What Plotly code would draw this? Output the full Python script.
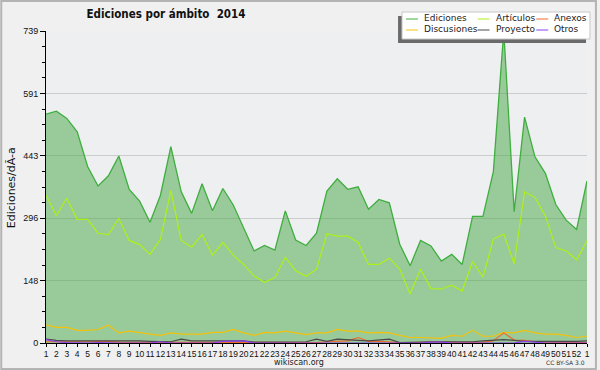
import plotly.graph_objects as go

# ---- data -------------------------------------------------------------
week_labels = ["1", "2", "3", "4", "5", "6", "7", "8", "9", "10",
               "11", "12", "13", "14", "15", "16", "17", "18", "19", "20",
               "21", "22", "23", "24", "25", "26", "27", "28", "29", "30",
               "31", "32", "33", "34", "35", "36", "37", "38", "39", "40",
               "41", "42", "43", "44", "45", "46", "47", "48", "49", "50",
               "51", "52", "1"]

ediciones = [542, 549, 532, 500, 418, 372, 396, 443, 364, 336,
             286, 350, 465, 358, 307, 377, 313, 366, 327, 274,
             218, 231, 220, 313, 244, 231, 260, 360, 389, 364,
             370, 317, 340, 332, 234, 183, 243, 230, 194, 210,
             186, 300, 300, 406, 739, 311, 535, 441, 402, 328,
             291, 269, 384]

articulos = [350, 302, 343, 293, 293, 260, 257, 295, 243, 233,
             210, 246, 361, 243, 227, 257, 208, 238, 208, 186,
             159, 144, 155, 203, 171, 158, 175, 259, 253, 253,
             238, 186, 186, 201, 175, 116, 175, 129, 128, 137,
             123, 193, 156, 246, 258, 188, 358, 345, 301, 226,
             218, 197, 242]

discusiones = [43, 37, 37, 30, 30, 32, 42, 24, 28, 24,
               21, 18, 24, 21, 21, 21, 25, 25, 32, 24,
               18, 25, 24, 28, 24, 20, 24, 24, 32, 28,
               28, 24, 25, 24, 18, 13, 13, 12, 11, 18,
               16, 30, 16, 16, 25, 24, 30, 24, 21, 21,
               18, 13, 16]

anexos = [3, 3, 2, 2, 3, 4, 4, 2, 2, 2,
          1, 1, 2, 1, 1, 1, 2, 2, 2, 1,
          1, 1, 1, 1, 1, 1, 1, 3, 4, 5,
          13, 4, 4, 2, 1, 1, 1, 3, 3, 2,
          1, 1, 2, 5, 24, 7, 6, 3, 2, 2,
          1, 1, 1]

proyecto = [9, 6, 5, 5, 5, 6, 5, 5, 5, 5,
            4, 3, 3, 9, 5, 5, 5, 6, 6, 5,
            2, 2, 2, 2, 2, 3, 9, 4, 9, 7,
            6, 5, 7, 9, 1, 2, 3, 3, 3, 3,
            3, 3, 5, 7, 8, 6, 4, 4, 4, 3,
            3, 4, 5]

otros = [8, 3, 1, 0, 0, 1, 0, 0, 0, 0,
         0, 3, 0, 0, 0, 0, 0, 4, 5, 5,
         0, 0, 0, 0, 0, 0, 0, 0, 0, 0,
         0, 0, 0, 0, 0, 0, 0, 2, 2, 0,
         0, 0, 0, 0, 0, 0, 4, 2, 0, 0,
         0, 0, 0]

y_tick_vals = [0, 147.8, 295.6, 443.4, 591.2, 739]
y_tick_text = ["0", "148", "296", "443", "591", "739"]

series_names = ["Ediciones", "Artículos", "Anexos", "Discusiones", "Proyecto", "Otros"]
series_colors = {
    "Ediciones": "#3fae3f",
    "Artículos": "#aef01a",
    "Anexos": "#f26a2a",
    "Discusiones": "#f2c20c",
    "Proyecto": "#4a4a4a",
    "Otros": "#8a3ff0",
}

# ---- layout helpers (pixel -> paper) ----------------------------------
W, H = 600, 370
L, R, T, B = 46, 10, 31, 27
PW, PH = W - L - R, H - T - B


def px(x):
    return (x - L) / PW


def py(y):
    return (H - B - y) / PH


xs = list(range(len(week_labels)))

fig = go.Figure()

fig.add_trace(go.Scatter(
    x=xs, y=ediciones, name="Ediciones", mode="lines", fill="tozeroy",
    fillcolor="rgba(68,165,65,0.5)",
    line=dict(color=series_colors["Ediciones"], width=1.3), showlegend=False))

for name, vals in [("Artículos", articulos), ("Discusiones", discusiones),
                   ("Anexos", anexos), ("Proyecto", proyecto), ("Otros", otros)]:
    fig.add_trace(go.Scatter(
        x=xs, y=vals, name=name, mode="lines",
        line=dict(color=series_colors[name], width=1.2), showlegend=False))

x_tick_font = dict(family="Liberation Sans", size=8.5, color="#111111")
y_tick_font = dict(family="Liberation Sans", size=9, color="#111111")

fig.update_xaxes(
    range=[0, len(week_labels) - 1], tickmode="array", tickvals=xs,
    ticktext=week_labels, tickangle=0, ticks="outside", ticklen=3,
    tickcolor="black", showline=True, linecolor="black", linewidth=1,
    showgrid=False, zeroline=False, tickfont=x_tick_font, fixedrange=True)

fig.update_yaxes(
    range=[0, 739], tickmode="array", tickvals=y_tick_vals, ticktext=y_tick_text,
    ticks="outside", ticklen=5, tickcolor="black", showline=True,
    linecolor="black", linewidth=1, showgrid=True, gridcolor="#cccccc",
    gridwidth=1, zeroline=False, tickfont=y_tick_font, fixedrange=True,
    minor=dict(tickmode="linear", tick0=0, dtick=36.95, ticklen=3,
               tickcolor="black", showgrid=False))

shapes = []
annotations = []

# outer frame
shapes.append(dict(type="rect", xref="paper", yref="paper",
                   x0=px(1), x1=px(599), y0=py(369), y1=py(1),
                   line=dict(color="#b4b4b4", width=2), layer="above"))

# legend box with shadow
shapes.append(dict(type="rect", xref="paper", yref="paper",
                   x0=px(400), x1=px(589), y0=py(43), y1=py(16),
                   fillcolor="#6a6a6a", line=dict(width=0), layer="above"))
shapes.append(dict(type="rect", xref="paper", yref="paper",
                   x0=px(404), x1=px(593), y0=py(39), y1=py(12),
                   fillcolor="white", line=dict(color="#c8c8c8", width=1),
                   layer="above"))

col_x = [408, 480, 539]
row_y = [19, 30]
for i, name in enumerate(series_names):
    c, r = i % 3, i // 3
    x0 = col_x[c]
    y0 = row_y[r]
    shapes.append(dict(type="line", xref="paper", yref="paper",
                       x0=px(x0), x1=px(x0 + 12), y0=py(y0), y1=py(y0),
                       line=dict(color=series_colors[name], width=1),
                       layer="above"))
    annotations.append(dict(text=name, xref="paper", yref="paper",
                            x=px(x0 + 16), y=py(y0 - 1), xanchor="left",
                            yanchor="middle", showarrow=False,
                            font=dict(family="DejaVu Sans", size=9, color="#222222")))

# y axis title
annotations.append(dict(text="Ediciones/dÃ-a", xref="paper", yref="paper",
                        x=px(11), y=py(188), textangle=-90, showarrow=False,
                        xanchor="center", yanchor="middle",
                        font=dict(family="DejaVu Sans", size=11, color="#111111")))

# footer texts
annotations.append(dict(text="wikiscan.org", xref="paper", yref="paper",
                        x=px(300), y=py(362.5), showarrow=False,
                        xanchor="center", yanchor="middle",
                        font=dict(family="DejaVu Sans", size=8, color="#222222")))
annotations.append(dict(text="CC BY-SA 3.0", xref="paper", yref="paper",
                        x=px(590), y=py(362.5), showarrow=False,
                        xanchor="right", yanchor="middle",
                        font=dict(family="DejaVu Sans", size=6, color="#333333")))

fig.update_layout(
    width=W, height=H, autosize=False,
    margin=dict(l=L, r=R, t=T, b=B, pad=0),
    paper_bgcolor="#f0f0f0", plot_bgcolor="#eeeff1",
    showlegend=False, hovermode=False,
    title=dict(text="<b>Ediciones por ámbito  2014</b>", xref="container",
               yref="container", x=166 / W, y=1 - 14 / H, xanchor="center",
               yanchor="middle",
               font=dict(family="DejaVu Sans Condensed, DejaVu Sans", size=11.5,
                         color="#111111")),
    shapes=shapes, annotations=annotations,
)

fig.write_html(
    "out.html",
    config={"displayModeBar": False, "staticPlot": True},
    post_script="document.body.style.margin='0';"
                "document.body.style.background='#f0f0f0';",
)
